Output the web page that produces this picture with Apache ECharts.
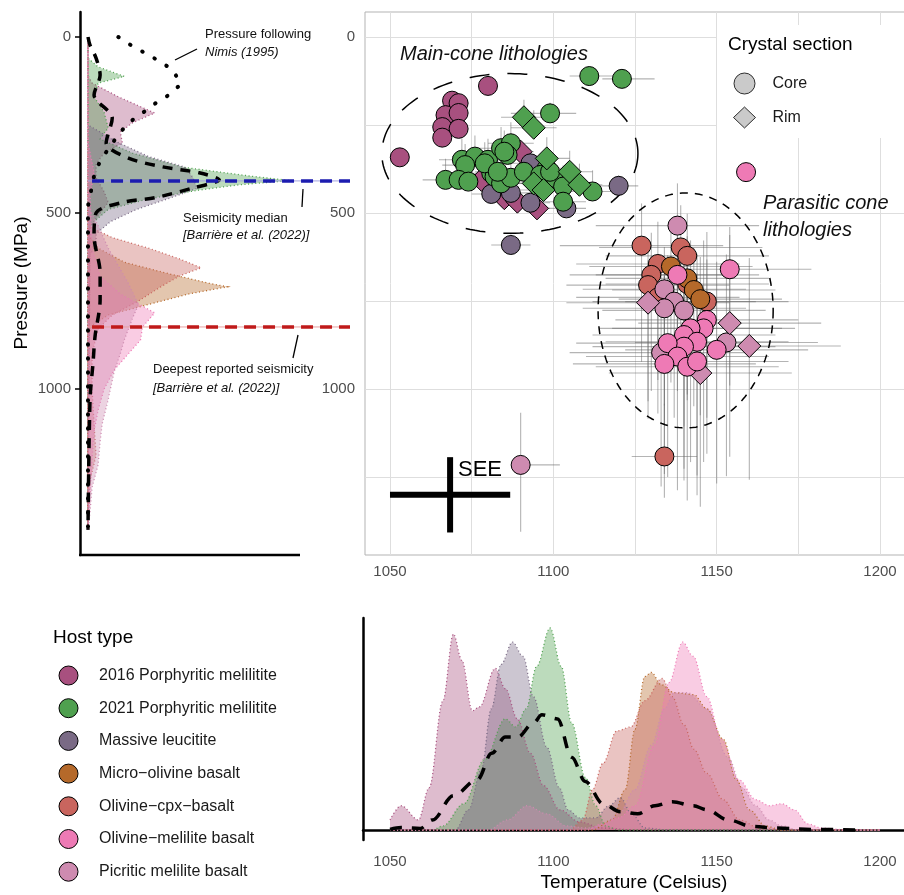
<!DOCTYPE html>
<html lang="en">
<head>
<meta charset="UTF-8">
<title>Host lithologies – pressure and temperature</title>
<script src="https://cdn.jsdelivr.net/npm/echarts@6.0.0/dist/echarts.min.js"></script>
<style>
  html, body { margin: 0; padding: 0; background: #fff; }
  #main { width: 904px; height: 895px; }
</style>
</head>
<body>
<div id="main"></div>
<script>
// ---- data ----
var hostNames = ['2016 Porphyritic melilitite', '2021 Porphyritic melilitite', 'Massive leucitite',
  'Micro\u2212olivine basalt', 'Olivine\u2212cpx\u2212basalt', 'Olivine\u2212melilite basalt', 'Picritic melilite basalt'];
var hostColors = ['#A8507F', '#4FA04F', '#7A6A85', '#B5692A', '#C9655E', '#EE7AB5', '#CE8BB0'];

// [T (C), P (MPa), section, -dT, +dT, -dP, +dP]
var p2016 = [
  [1080, 139, 'Core', 3, 3, 15, 15], [1069, 181, 'Core', 3, 3, 15, 15], [1071, 188, 'Core', 3, 3, 15, 15],
  [1067, 222, 'Core', 3, 3, 15, 15], [1071, 216, 'Core', 3, 3, 15, 15], [1066, 256, 'Core', 3, 3, 15, 15],
  [1071, 261, 'Core', 3, 3, 15, 15], [1066, 286, 'Core', 3, 3, 15, 15], [1053, 342, 'Core', 3, 3, 15, 15],
  [1090, 326, 'Rim', 4, 4, 20, 20], [1078, 406, 'Rim', 4, 4, 20, 20], [1085, 458, 'Rim', 4, 4, 20, 20],
  [1089, 468, 'Rim', 4, 4, 20, 20], [1095, 487, 'Rim', 4, 4, 20, 20]
];
var p2021 = [
  [1111, 111, 'Core', 6, 10, 20, 20], [1121, 119, 'Core', 6, 10, 20, 20], [1099, 217, 'Core', 12, 8, 30, 20],
  [1072, 349, 'Core', 7, 7, 60, 20], [1076, 340, 'Core', 7, 7, 60, 20], [1073, 364, 'Core', 7, 7, 60, 20],
  [1067, 406, 'Core', 7, 7, 60, 20], [1071, 406, 'Core', 7, 7, 60, 20], [1074, 411, 'Core', 7, 7, 60, 20],
  [1080, 349, 'Core', 7, 7, 60, 20], [1084, 316, 'Core', 7, 7, 60, 20], [1087, 302, 'Core', 7, 7, 60, 20],
  [1086, 335, 'Core', 7, 7, 60, 20], [1081, 387, 'Core', 7, 7, 60, 20], [1082, 397, 'Core', 7, 7, 60, 20],
  [1084, 416, 'Core', 7, 7, 60, 20], [1087, 400, 'Core', 7, 7, 60, 20], [1091, 383, 'Core', 7, 7, 60, 20],
  [1098, 373, 'Core', 7, 7, 60, 20], [1100, 400, 'Core', 7, 7, 60, 20], [1103, 425, 'Core', 7, 7, 60, 20],
  [1103, 468, 'Core', 7, 7, 60, 20], [1112, 439, 'Core', 7, 7, 60, 20], [1096, 392, 'Core', 7, 7, 60, 20],
  [1079, 359, 'Core', 7, 7, 60, 20], [1083, 383, 'Core', 7, 7, 60, 20], [1099, 383, 'Core', 7, 7, 60, 20],
  [1085, 326, 'Core', 7, 7, 60, 20],
  [1091, 228, 'Rim', 7, 7, 50, 20], [1094, 258, 'Rim', 7, 7, 50, 20], [1098, 345, 'Rim', 7, 7, 60, 20],
  [1105, 383, 'Rim', 7, 7, 60, 20], [1108, 420, 'Rim', 7, 7, 60, 20], [1094, 416, 'Rim', 7, 7, 60, 20],
  [1097, 435, 'Rim', 7, 7, 60, 20]
];
var pLeucitite = [
  [1093, 359, 'Core', 6, 6, 30, 20], [1081, 446, 'Core', 6, 6, 30, 20], [1093, 471, 'Core', 6, 6, 30, 20],
  [1104, 487, 'Core', 6, 6, 30, 20], [1120, 423, 'Core', 6, 6, 30, 20], [1087, 591, 'Core', 6, 6, 30, 20],
  [1087, 443, 'Core', 6, 6, 30, 20]
];
var pMicroOlivine = [
  [1136, 652, 'Core', 25, 25, 120, 330], [1141, 686, 'Core', 25, 25, 120, 330],
  [1143, 719, 'Core', 25, 25, 120, 330], [1145, 745, 'Core', 25, 25, 120, 330]
];
var pOlivineCpx = [
  [1127, 593, 'Core', 25, 25, 120, 330], [1139, 598, 'Core', 25, 25, 120, 330], [1141, 622, 'Core', 25, 25, 120, 330],
  [1132, 645, 'Core', 25, 25, 120, 330], [1130, 676, 'Core', 25, 25, 120, 330], [1129, 705, 'Core', 25, 25, 120, 330],
  [1141, 702, 'Core', 25, 25, 120, 330], [1147, 752, 'Core', 25, 25, 120, 330], [1132, 740, 'Core', 25, 25, 120, 330],
  [1134, 1192, 'Core', 10, 10, 150, 50]
];
var pOlivineMelilite = [
  [1159, 384, 'Core', 3, 3, 10, 10], [1154, 660, 'Core', 25, 25, 120, 330], [1138, 676, 'Core', 25, 25, 120, 330],
  [1147, 804, 'Core', 28, 28, 250, 380], [1146, 828, 'Core', 28, 28, 250, 380], [1142, 828, 'Core', 28, 28, 250, 380],
  [1140, 847, 'Core', 28, 28, 250, 380], [1144, 866, 'Core', 28, 28, 250, 380], [1140, 880, 'Core', 28, 28, 250, 380],
  [1135, 870, 'Core', 28, 28, 250, 380], [1150, 889, 'Core', 28, 28, 250, 380], [1138, 908, 'Core', 28, 28, 250, 380],
  [1134, 929, 'Core', 28, 28, 250, 380], [1141, 937, 'Core', 28, 28, 250, 380], [1144, 922, 'Core', 28, 28, 250, 380]
];
var pPicritic = [
  [1138, 536, 'Core', 25, 25, 120, 330], [1134, 717, 'Core', 25, 25, 120, 330], [1137, 752, 'Core', 25, 25, 120, 330],
  [1134, 771, 'Core', 25, 25, 120, 330], [1140, 777, 'Core', 25, 25, 120, 330], [1133, 897, 'Core', 28, 28, 250, 380],
  [1153, 868, 'Core', 28, 28, 250, 380], [1090, 1216, 'Core', 0, 12, 148, 190],
  [1154, 813, 'Rim', 28, 28, 250, 380], [1160, 878, 'Rim', 28, 28, 250, 380],
  [1129, 755, 'Rim', 25, 25, 120, 330], [1145, 955, 'Rim', 28, 28, 250, 380]
];
var hostPoints = [p2016, p2021, pLeucitite, pMicroOlivine, pOlivineCpx, pOlivineMelilite, pPicritic];

// pressure densities, [P, relative density]
var pDens2016 = [[0, 0], [110, 0], [131, 0.02], [170, 0.15], [216, 0.33], [244, 0.22], [270, 0.16], [301, 0.17], [330, 0.08], [360, 0.04], [400, 0.04], [440, 0.08], [470, 0.1], [500, 0.06], [540, 0.01], [1400, 0]];
var pDens2021 = [[0, 0], [60, 0], [85, 0.05], [112, 0.18], [131, 0.05], [170, 0.03], [215, 0.08], [258, 0.1], [290, 0.06], [330, 0.22], [370, 0.47], [395, 0.8], [408, 1.0], [420, 0.75], [435, 0.55], [460, 0.3], [490, 0.1], [530, 0.02], [560, 0], [1400, 0]];
var pDensLeucitite = [[0, 0], [250, 0], [300, 0.15], [340, 0.3], [370, 0.48], [400, 0.52], [430, 0.54], [455, 0.42], [490, 0.24], [525, 0.11], [560, 0.04], [590, 0.04], [620, 0.01], [1400, 0]];
var pDensMicroOlivine = [[0, 0], [560, 0], [600, 0.05], [640, 0.18], [670, 0.38], [700, 0.6], [710, 0.69], [730, 0.5], [760, 0.3], [790, 0.1], [820, 0.02], [850, 0], [1400, 0]];
var pDensOlivineCpx = [[0, 0], [520, 0], [543, 0.02], [570, 0.12], [600, 0.3], [630, 0.45], [656, 0.56], [680, 0.45], [710, 0.36], [750, 0.25], [790, 0.12], [830, 0.05], [900, 0.02], [1000, 0.02], [1100, 0.03], [1190, 0.04], [1260, 0.01], [1400, 0]];
var pDensOlivineMelilite = [[0, 0], [300, 0], [384, 0.03], [450, 0.01], [600, 0.02], [680, 0.06], [730, 0.16], [784, 0.33], [824, 0.27], [861, 0.26], [900, 0.2], [946, 0.13], [1000, 0.08], [1060, 0.05], [1120, 0.03], [1200, 0.02], [1300, 0.01], [1400, 0]];
var pDensPicritic = [[0, 0], [480, 0], [536, 0.05], [600, 0.1], [700, 0.2], [760, 0.25], [800, 0.22], [860, 0.18], [900, 0.16], [950, 0.13], [1030, 0.1], [1100, 0.07], [1150, 0.06], [1216, 0.05], [1280, 0.02], [1350, 0.01], [1400, 0]];
var pDensAll = [[0, 0], [23, 0.01], [60, 0.04], [108, 0.06], [165, 0.03], [230, 0.12], [301, 0.09], [344, 0.2], [369, 0.37], [386, 0.55], [406, 0.65], [429, 0.52], [457, 0.33], [469, 0.18], [500, 0.04], [565, 0.03], [670, 0.06], [747, 0.06], [850, 0.035], [926, 0.025], [1031, 0.01], [1400, 0]];
var pNimis = [[0, 0.15], [26, 0.22], [48, 0.29], [71, 0.36], [94, 0.42], [134, 0.46], [165, 0.40], [190, 0.33], [216, 0.27], [244, 0.2], [278, 0.15], [352, 0.06], [395, 0.03], [480, 0], [1400, 0]];
var pressureDensities = [pDens2016, pDens2021, pDensLeucitite, pDensMicroOlivine, pDensOlivineCpx, pDensOlivineMelilite, pDensPicritic];

// temperature densities, [T, relative density]
var tDens2016 = [[1050, 0.05], [1053.4, 0.12], [1058.7, 0.05], [1062, 0.21], [1066.2, 0.64], [1069.4, 0.97], [1072, 0.84], [1075.2, 0.59], [1077.4, 0.61], [1082.2, 0.8], [1085.3, 0.7], [1089, 0.55], [1093, 0.38], [1097, 0.22], [1102, 0.1], [1108, 0.04], [1115, 0.01], [1125, 0], [1200, 0]];
var tDens2021 = [[1050, 0], [1063, 0], [1066.2, 0.02], [1072.6, 0.13], [1079, 0.35], [1085.3, 0.55], [1088.5, 0.51], [1091.7, 0.6], [1094.9, 0.81], [1099, 1.0], [1102.4, 0.81], [1105.6, 0.53], [1109.8, 0.26], [1113, 0.12], [1116, 0.02], [1120, 0], [1200, 0]];
var tDensLeucitite = [[1050, 0], [1070, 0], [1074, 0.1], [1078, 0.3], [1081, 0.6], [1084, 0.82], [1087.5, 0.93], [1090.7, 0.86], [1093.9, 0.66], [1098, 0.41], [1101.8, 0.21], [1104.5, 0.1], [1108, 0.06], [1113, 0.06], [1117, 0.12], [1120.5, 0.16], [1124, 0.08], [1128, 0.01], [1135, 0], [1200, 0]];
var tDensMicroOlivine = [[1050, 0], [1112, 0], [1118, 0.05], [1122, 0.2], [1125, 0.5], [1128, 0.76], [1130, 0.78], [1133, 0.72], [1137, 0.68], [1143, 0.67], [1147, 0.6], [1152, 0.45], [1156, 0.25], [1160, 0.1], [1165, 0.02], [1170, 0], [1200, 0]];
var tDensOlivineCpx = [[1050, 0], [1105, 0], [1109, 0.05], [1112, 0.2], [1115.2, 0.33], [1119.4, 0.49], [1123.7, 0.51], [1128, 0.64], [1133.3, 0.75], [1136.4, 0.66], [1140, 0.52], [1143, 0.4], [1147, 0.28], [1152, 0.15], [1157, 0.05], [1163, 0.01], [1170, 0], [1200, 0]];
var tDensOlivineMelilite = [[1050, 0], [1110, 0], [1115, 0.03], [1120, 0.06], [1125, 0.12], [1131, 0.42], [1135.4, 0.73], [1139.6, 0.93], [1142.8, 0.86], [1147, 0.66], [1151.4, 0.45], [1156.7, 0.25], [1162, 0.15], [1166.2, 0.12], [1170, 0.13], [1173.7, 0.1], [1178, 0.03], [1182, 0.01], [1190, 0], [1200, 0]];
var tDensPicritic = [[1050, 0], [1080, 0], [1086, 0.05], [1092, 0.12], [1098, 0.08], [1104, 0.02], [1110, 0.01], [1115, 0.02], [1120, 0.08], [1125, 0.2], [1130, 0.42], [1134, 0.6], [1137, 0.68], [1141, 0.68], [1147, 0.6], [1153.5, 0.36], [1157.7, 0.21], [1162, 0.12], [1166, 0.05], [1170, 0.02], [1175, 0], [1200, 0]];
var tDensAll = [[1050, 0.003], [1053.4, 0.012], [1059.3, 0.008], [1063, 0.05], [1069.4, 0.17], [1076.8, 0.25], [1081.1, 0.38], [1085.3, 0.46], [1089.1, 0.46], [1093.9, 0.53], [1096.5, 0.57], [1101.3, 0.55], [1105.6, 0.36], [1109.8, 0.24], [1115.2, 0.13], [1120.5, 0.09], [1125.8, 0.08], [1131.1, 0.12], [1136.4, 0.14], [1142.8, 0.12], [1147, 0.1], [1153.5, 0.05], [1160.9, 0.017], [1168.4, 0.01], [1179, 0.003], [1194, 0]];
var temperatureDensities = [tDens2016, tDens2021, tDensLeucitite, tDensMicroOlivine, tDensOlivineCpx, tDensOlivineMelilite, tDensPicritic];

// reference lines and outlines
var seismicityMedian = 409;
var deepestSeismicity = 824;
// [centre T, centre P, radius T, radius P]
var groupEllipses = [[1086.7, 331, 39.2, 227], [1140.5, 777, 26.8, 334]];
var ellipseDashes = [[20, 18], [8, 7]];
var seeCross = [[1068.4, 1301, 18.4, 107]];   // standard error of estimate

var tempTicks = [1050, 1100, 1150, 1200];
var tempGrid = [1050, 1075, 1100, 1125, 1150, 1175, 1200];
var presTicks = [0, 500, 1000];
var presGrid = [0, 250, 500, 750, 1000, 1250];

// ---- chart ----
var FONT = 'Liberation Sans, Arial, sans-serif';
var LABEL = '#4d4d4d';

function rgba(hex, a) {
  var n = parseInt(hex.slice(1), 16);
  return 'rgba(' + (n >> 16) + ',' + ((n >> 8) & 255) + ',' + (n & 255) + ',' + a + ')';
}
function plain(v) { return String(v); }

var chart = echarts.init(document.getElementById('main'));
var series = [];

// scatter points, stacked so later groups sit on top
var drawOrder = [0, 2, 1, 4, 3, 6, 5];
drawOrder.forEach(function (h) {
  series.push({
    name: hostNames[h], type: 'scatter', xAxisIndex: 0, yAxisIndex: 0, z: 4,
    itemStyle: { color: hostColors[h], borderColor: '#000', borderWidth: 1, opacity: 1 },
    emphasis: { disabled: true },
    data: hostPoints[h].map(function (p) {
      var rim = p[2] === 'Rim';
      return { value: [p[0], p[1]], symbol: rim ? 'diamond' : 'circle', symbolSize: rim ? 23 : 19 };
    })
  });
});
// dummy series for the crystal-section legend
series.push({ name: 'Core', type: 'scatter', data: [], itemStyle: { color: '#bdbdbd', borderColor: '#000', borderWidth: 1 } });
series.push({ name: 'Rim', type: 'scatter', data: [], itemStyle: { color: '#bdbdbd', borderColor: '#000', borderWidth: 1 } });

// error bars
var errRows = [];
hostPoints.forEach(function (g) {
  g.forEach(function (p) { errRows.push([p[0], p[1], p[3], p[4], p[5], p[6]]); });
});
series.push({
  type: 'custom', xAxisIndex: 0, yAxisIndex: 0, z: 2, silent: true,
  data: errRows,
  renderItem: function (params, api) {
    var t = api.value(0), p = api.value(1);
    var a = api.coord([t - api.value(2), p]), b = api.coord([t + api.value(3), p]);
    var c = api.coord([t, p - api.value(4)]), d = api.coord([t, p + api.value(5)]);
    var st = { stroke: 'rgba(105,105,105,0.5)', lineWidth: 1.1 };
    return { type: 'group', children: [
      { type: 'line', shape: { x1: a[0], y1: a[1], x2: b[0], y2: b[1] }, style: st },
      { type: 'line', shape: { x1: c[0], y1: c[1], x2: d[0], y2: d[1] }, style: st }
    ] };
  }
});

// dashed group ellipses
series.push({
  type: 'custom', xAxisIndex: 0, yAxisIndex: 0, z: 3, silent: true,
  data: groupEllipses,
  renderItem: function (params, api) {
    var cx = api.value(0), cy = api.value(1), rx = api.value(2), ry = api.value(3);
    var pts = [];
    for (var i = 0; i <= 160; i++) {
      var a = i / 160 * Math.PI * 2;
      pts.push(api.coord([cx + rx * Math.cos(a), cy + ry * Math.sin(a)]));
    }
    return { type: 'polyline', shape: { points: pts },
      style: { stroke: '#000', lineWidth: 1.5, fill: null, lineDash: ellipseDashes[params.dataIndex] } };
  }
});

// SEE cross
series.push({
  type: 'custom', xAxisIndex: 0, yAxisIndex: 0, z: 3, silent: true,
  data: seeCross,
  renderItem: function (params, api) {
    var t = api.value(0), p = api.value(1), dt = api.value(2), dp = api.value(3);
    var a = api.coord([t - dt, p]), b = api.coord([t + dt, p]);
    var c = api.coord([t, p - dp]), d = api.coord([t, p + dp]);
    var st = { stroke: '#000', lineWidth: 6 };
    return { type: 'group', children: [
      { type: 'line', shape: { x1: a[0], y1: a[1], x2: b[0], y2: b[1] }, style: st },
      { type: 'line', shape: { x1: c[0], y1: c[1], x2: d[0], y2: d[1] }, style: st }
    ] };
  }
});

// pressure densities (left panel), filled toward the zero line
pressureDensities.forEach(function (dens, h) {
  series.push({
    type: 'custom', xAxisIndex: 1, yAxisIndex: 1, z: 2, silent: true,
    data: dens.map(function (r) { return [r[1], r[0]]; }),
    renderItem: function (params, api) {
      if (params.dataIndex !== 0) return null;
      var pts = dens.map(function (r) { return api.coord([r[1], r[0]]); });
      pts.push(api.coord([0, dens[dens.length - 1][0]]));
      pts.push(api.coord([0, dens[0][0]]));
      return { type: 'polygon', shape: { points: pts },
        style: { fill: rgba(hostColors[h], 0.38), stroke: hostColors[h], lineWidth: 1.3, lineDash: [1, 2.6] } };
    }
  });
});
series.push({
  type: 'line', xAxisIndex: 1, yAxisIndex: 1, z: 5, silent: true, showSymbol: false, smooth: 0.3,
  data: pDensAll.map(function (r) { return [r[1], r[0]]; }),
  lineStyle: { color: '#000', width: 3.5, type: [10, 8] }
});
series.push({
  type: 'line', xAxisIndex: 1, yAxisIndex: 1, z: 5, silent: true, showSymbol: false,
  data: pNimis.map(function (r) { return [r[1], r[0]]; }),
  lineStyle: { color: '#000', width: 4, type: [0.5, 13.5], cap: 'round' }
});
[[seismicityMedian, '#1c1cb0', '#a3a3e0'], [deepestSeismicity, '#c01a1a', '#e6a0a0']].forEach(function (hl) {
  series.push({
    type: 'line', xAxisIndex: 1, yAxisIndex: 1, z: 6, silent: true, showSymbol: false,
    data: [[0, hl[0]], [1.297, hl[0]]], lineStyle: { color: hl[2], width: 1 }
  });
  series.push({
    type: 'line', xAxisIndex: 1, yAxisIndex: 1, z: 6, silent: true, showSymbol: false,
    data: [[0.02, hl[0]], [1.297, hl[0]]], lineStyle: { color: hl[1], width: 3.5, type: [12, 7] }
  });
});

// temperature densities (bottom panel)
temperatureDensities.forEach(function (dens, h) {
  series.push({
    type: 'line', xAxisIndex: 2, yAxisIndex: 2, z: 2, silent: true, showSymbol: false,
    smooth: 0.35, smoothMonotone: 'x',
    data: dens,
    lineStyle: { color: hostColors[h], width: 1.3, type: [1, 2.6] },
    areaStyle: { color: rgba(hostColors[h], 0.38), opacity: 1 }
  });
});
series.push({
  type: 'line', xAxisIndex: 2, yAxisIndex: 2, z: 5, silent: true, showSymbol: false,
  smooth: 0.35, smoothMonotone: 'x',
  data: tDensAll, lineStyle: { color: '#000', width: 3.5, type: [12, 10] }
});

var option = {
  animation: false,
  backgroundColor: '#fff',
  textStyle: { fontFamily: FONT },
  grid: [
    { left: 365, top: 12, width: 560, height: 543, show: true, borderColor: '#b3b3b3', borderWidth: 1, backgroundColor: 'transparent', containLabel: false, outerBoundsMode: 'none' },
    { left: 80, top: 12, width: 270, height: 543, containLabel: false, outerBoundsMode: 'none' },
    { left: 363, top: 618, width: 560, height: 222, containLabel: false, outerBoundsMode: 'none' }
  ],
  xAxis: [
    { gridIndex: 0, type: 'value', min: 1042.35, max: 1213.78,
      axisLine: { show: false }, axisTick: { show: false, customValues: tempGrid },
      axisLabel: { customValues: tempTicks, formatter: plain, color: LABEL, fontSize: 15, margin: 9, fontFamily: FONT },
      splitLine: { show: true, lineStyle: { color: '#dedede', width: 1 } } },
    { gridIndex: 1, type: 'value', min: -0.0396, max: 1.297, show: false, splitLine: { show: false } },
    { gridIndex: 2, type: 'value', min: 1041.73, max: 1213.16,
      axisLine: { show: true, lineStyle: { color: '#000', width: 2.5 } }, axisTick: { show: false, customValues: tempTicks },
      axisLabel: { customValues: tempTicks, formatter: plain, color: LABEL, fontSize: 15, margin: 14, fontFamily: FONT },
      splitLine: { show: false } }
  ],
  yAxis: [
    { gridIndex: 0, type: 'value', inverse: true, min: -71, max: 1472,
      axisLine: { show: false }, axisTick: { show: false, customValues: presGrid },
      axisLabel: { customValues: presTicks, formatter: plain, color: LABEL, fontSize: 15, margin: 10, fontFamily: FONT },
      splitLine: { show: true, lineStyle: { color: '#dedede', width: 1 } } },
    { gridIndex: 1, type: 'value', inverse: true, min: -71, max: 1472,
      axisLine: { show: true, onZero: false, lineStyle: { color: '#000', width: 2.5 } },
      axisTick: { show: true, length: 5, customValues: presTicks, lineStyle: { color: '#000', width: 1.5 } },
      axisLabel: { customValues: presTicks, formatter: plain, color: LABEL, fontSize: 15, margin: 9, fontFamily: FONT },
      splitLine: { show: false } },
    { gridIndex: 2, type: 'value', min: -0.0495, max: 1.0495,
      axisLine: { show: true, onZero: false, lineStyle: { color: '#000', width: 2.5 } },
      axisTick: { show: false }, axisLabel: { show: false }, splitLine: { show: false } }
  ],
  legend: [
    { data: hostNames, orient: 'vertical', left: 58.5, top: 665.5, height: 226, padding: 0,
      itemWidth: 19, itemHeight: 19, itemGap: 12.7,
      icon: 'circle', selectedMode: false,
      itemStyle: { borderColor: '#000', borderWidth: 1 },
      textStyle: { fontSize: 16, color: '#1a1a1a', fontFamily: FONT, padding: [0, 0, 0, 16] } },
    { data: [{ name: 'Core', icon: 'circle' }, { name: 'Rim', icon: 'diamond' }], orient: 'vertical',
      left: 733, top: 72.5, padding: 0, itemWidth: 22, itemHeight: 21, itemGap: 12, selectedMode: false,
      itemStyle: { borderColor: '#000', borderWidth: 1 },
      textStyle: { fontSize: 16, color: '#1a1a1a', fontFamily: FONT, padding: [0, 0, 0, 12] } }
  ],
  graphic: [
    { type: 'rect', z: 1, shape: { x: 717, y: 25, width: 200, height: 113 }, style: { fill: '#fff' } },
    { type: 'text', z: 6, x: 728, y: 45, style: { text: 'Crystal section', font: '19px ' + FONT, fill: '#000', verticalAlign: 'middle', textVerticalAlign: 'middle' } },
    { type: 'text', z: 6, x: 53, y: 638, style: { text: 'Host type', font: '19px ' + FONT, fill: '#000', verticalAlign: 'middle', textVerticalAlign: 'middle' } },
    { type: 'text', z: 6, x: 22, y: 283, rotation: Math.PI / 2,
      style: { text: 'Pressure (MPa)', font: '19px ' + FONT, fill: '#000', align: 'center', textAlign: 'center', verticalAlign: 'middle', textVerticalAlign: 'middle' } },
    { type: 'text', z: 6, x: 634, y: 883,
      style: { text: 'Temperature (Celsius)', font: '19px ' + FONT, fill: '#000', align: 'center', textAlign: 'center', verticalAlign: 'middle', textVerticalAlign: 'middle' } },
    { type: 'text', z: 6, x: 400, y: 54, style: { text: 'Main-cone lithologies', font: 'italic 20px ' + FONT, fill: '#111', verticalAlign: 'middle', textVerticalAlign: 'middle' } },
    { type: 'text', z: 6, x: 763, y: 203, style: { text: 'Parasitic cone', font: 'italic 20px ' + FONT, fill: '#111', verticalAlign: 'middle', textVerticalAlign: 'middle' } },
    { type: 'text', z: 6, x: 763, y: 230, style: { text: 'lithologies', font: 'italic 20px ' + FONT, fill: '#111', verticalAlign: 'middle', textVerticalAlign: 'middle' } },
    { type: 'text', z: 6, x: 458, y: 470, style: { text: 'SEE', font: '22px ' + FONT, fill: '#000', verticalAlign: 'middle', textVerticalAlign: 'middle' } },
    { type: 'text', z: 6, x: 205, y: 34, style: { text: 'Pressure following', font: '13px ' + FONT, fill: '#111', verticalAlign: 'middle', textVerticalAlign: 'middle' } },
    { type: 'text', z: 6, x: 205, y: 52, style: { text: 'Nimis (1995)', font: 'italic 13px ' + FONT, fill: '#111', verticalAlign: 'middle', textVerticalAlign: 'middle' } },
    { type: 'line', z: 6, shape: { x1: 175, y1: 60, x2: 197, y2: 49 }, style: { stroke: '#000', lineWidth: 1.3 } },
    { type: 'text', z: 6, x: 183, y: 218, style: { text: 'Seismicity median', font: '13px ' + FONT, fill: '#111', verticalAlign: 'middle', textVerticalAlign: 'middle' } },
    { type: 'text', z: 6, x: 183, y: 235, style: { text: '[Barri\u00e8re et al. (2022)]', font: 'italic 13px ' + FONT, fill: '#111', verticalAlign: 'middle', textVerticalAlign: 'middle' } },
    { type: 'line', z: 6, shape: { x1: 303, y1: 189, x2: 302, y2: 207 }, style: { stroke: '#000', lineWidth: 1.3 } },
    { type: 'text', z: 6, x: 153, y: 369, style: { text: 'Deepest reported seismicity', font: '13px ' + FONT, fill: '#111', verticalAlign: 'middle', textVerticalAlign: 'middle' } },
    { type: 'text', z: 6, x: 153, y: 388, style: { text: '[Barri\u00e8re et al. (2022)]', font: 'italic 13px ' + FONT, fill: '#111', verticalAlign: 'middle', textVerticalAlign: 'middle' } },
    { type: 'line', z: 6, shape: { x1: 298, y1: 335, x2: 293, y2: 358 }, style: { stroke: '#000', lineWidth: 1.3 } },
    { type: 'line', z: 6, shape: { x1: 79, y1: 555, x2: 300, y2: 555 }, style: { stroke: '#000', lineWidth: 2.5 } }
  ],
  series: series
};
chart.setOption(option);
</script>
</body>
</html>
